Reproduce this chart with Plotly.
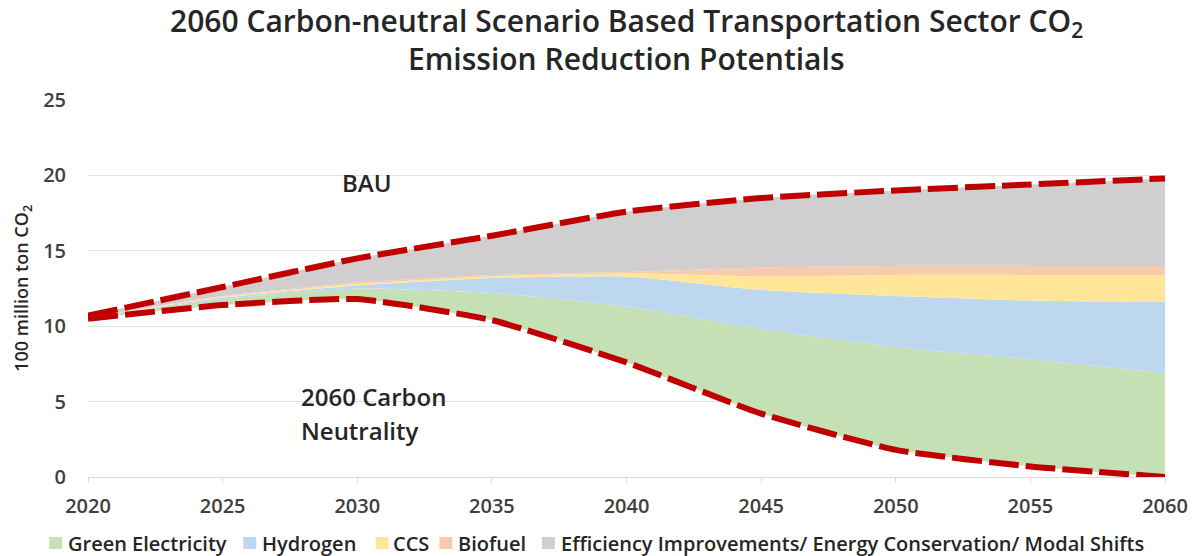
import plotly.graph_objects as go

# Transportation sector CO2 emissions, 100 million t
years = [2020, 2025, 2030, 2035, 2040, 2045, 2050, 2055, 2060]
carbon_neutral = [10.5, 11.4, 11.8, 10.4, 7.6, 4.2, 1.8, 0.7, 0.0]
bau = [10.7, 12.6, 14.5, 16.0, 17.6, 18.5, 19.0, 19.4, 19.8]

# Reduction wedges stacked on top of the carbon-neutral pathway
green_electricity = [0.1, 0.4, 0.7, 1.8, 3.7, 5.6, 6.8, 7.1, 6.9]
hydrogen = [0.0, 0.1, 0.2, 1.0, 2.0, 2.6, 3.4, 3.9, 4.7]
ccs = [0.0, 0.05, 0.1, 0.1, 0.2, 0.9, 1.4, 1.7, 1.8]
biofuel = [0.0, 0.05, 0.1, 0.1, 0.1, 0.6, 0.6, 0.6, 0.6]
efficiency = [0.1, 0.6, 1.6, 2.6, 4.0, 4.6, 5.0, 5.4, 5.8]

wedge_names = ["Green Electricity", "Hydrogen", "CCS", "Biofuel",
               "Efficiency Improvements/ Energy Conservation/ Modal Shifts"]
wedge_values = [green_electricity, hydrogen, ccs, biofuel, efficiency]
wedge_colors = ["#C5E0B4", "#BDD7EE", "#FFE699", "#F8CBAD", "#D0CECE"]

x_ticks = [2020, 2025, 2030, 2035, 2040, 2045, 2050, 2055, 2060]
y_ticks = [0, 5, 10, 15, 20, 25]

W, H = 1200, 556
ML, MR, MT, MB = 88, 30, 100, 79
PW, PH = W - ML - MR, H - MT - MB


def px_x(px):
    return (px - ML) / PW


def px_y(py):
    return (H - MB - py) / PH


FONT = "Open Sans, sans-serif"
TXT = "#262626"

fig = go.Figure()

# invisible base so the wedges start from the carbon-neutral line
fig.add_trace(go.Scatter(
    x=years, y=carbon_neutral, stackgroup="s", mode="lines",
    line=dict(width=0, shape="spline", smoothing=0.5),
    fillcolor="rgba(0,0,0,0)", showlegend=False, hoverinfo="skip",
))
for name, vals, col in zip(wedge_names, wedge_values, wedge_colors):
    fig.add_trace(go.Scatter(
        x=years, y=vals, stackgroup="s", mode="lines", name=name,
        line=dict(width=0, color=col, shape="spline", smoothing=0.5),
        fillcolor=col, showlegend=False,
    ))

dash_style = dict(color="#C00000", width=6, dash="30px,7px", shape="spline", smoothing=0.5)
fig.add_trace(go.Scatter(x=years, y=bau, mode="lines", line=dash_style,
                         showlegend=False, name="BAU"))
fig.add_trace(go.Scatter(x=years, y=carbon_neutral, mode="lines", line=dash_style,
                         showlegend=False, name="2060 Carbon Neutrality"))

annotations = []

# title, two centred lines
annotations.append(dict(
    x=0.5, y=px_y(22), xref="paper", yref="paper", xanchor="center", yanchor="middle",
    text="2060 Carbon-neutral Scenario Based Transportation Sector CO<sub>2</sub>",
    showarrow=False, font=dict(size=30, color=TXT, family=FONT, weight=600)))
annotations.append(dict(
    x=0.5, y=px_y(59), xref="paper", yref="paper", xanchor="center", yanchor="middle",
    text="Emission Reduction Potentials",
    showarrow=False, font=dict(size=30, color=TXT, family=FONT, weight=600)))

# scenario labels
label_font = dict(size=24, color=TXT, family=FONT, weight=600)
annotations.append(dict(
    x=px_x(368), y=px_y(182), xref="paper", yref="paper", xanchor="center", yanchor="middle",
    text="BAU", showarrow=False, font=label_font))
annotations.append(dict(
    x=px_x(300), y=px_y(396), xref="paper", yref="paper", xanchor="left", yanchor="middle",
    text="2060 Carbon", showarrow=False, font=label_font))
annotations.append(dict(
    x=px_x(300), y=px_y(430), xref="paper", yref="paper", xanchor="left", yanchor="middle",
    text="Neutrality", showarrow=False, font=label_font))

# y-axis title
annotations.append(dict(
    x=px_x(22), y=0.5, xref="paper", yref="paper", xanchor="center", yanchor="middle",
    text="100 million ton CO<sub>2</sub>", textangle=-90, showarrow=False,
    font=dict(size=18, color=TXT, family=FONT, weight=600)))

# legend row: square swatch + label
shapes = []
swatch_left = [49, 244, 377, 441, 544]
label_left = [66, 261, 392, 458, 561]
legend_y = 543
for name, col, sx, tx in zip(wedge_names, wedge_colors, swatch_left, label_left):
    shapes.append(dict(type="rect", xref="paper", yref="paper",
                       x0=px_x(sx), x1=px_x(sx + 13), y0=px_y(legend_y + 6), y1=px_y(legend_y - 6),
                       fillcolor=col, line=dict(width=0)))
    annotations.append(dict(
        x=px_x(tx), y=px_y(legend_y), xref="paper", yref="paper", xanchor="left",
        yanchor="middle", text=name, showarrow=False,
        font=dict(size=20, color=TXT, family=FONT, weight=600)))

fig.update_layout(
    width=W, height=H,
    paper_bgcolor="white", plot_bgcolor="white",
    margin=dict(l=ML, r=MR, t=MT, b=MB),
    font=dict(family=FONT, color="#404040"),
    showlegend=False,
    xaxis=dict(
        range=[2020, 2060], tickvals=x_ticks, ticktext=[str(v) for v in x_ticks],
        showgrid=False, zeroline=False, showline=True, linecolor="#D9D9D9",
        ticks="outside", ticklen=5, tickcolor="#D9D9D9", ticklabelstandoff=6,
        tickfont=dict(size=20, color="#404040", weight=600),
    ),
    yaxis=dict(
        range=[0, 25], tickvals=y_ticks, showgrid=True, gridcolor="#E3E3E3",
        zeroline=False, showline=False, ticks="", ticklabelstandoff=21,
        tickfont=dict(size=20, color="#404040", weight=600),
    ),
    annotations=annotations,
    shapes=shapes,
)

fig.write_html("out.html")
